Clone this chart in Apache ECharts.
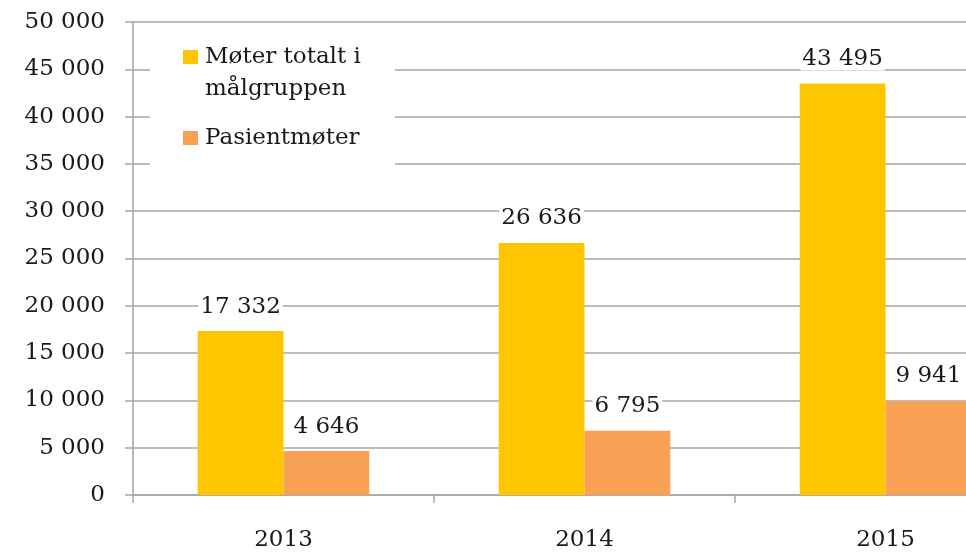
<!DOCTYPE html>
<html>
<head>
<meta charset="utf-8">
<script src="https://cdn.jsdelivr.net/npm/echarts@6/dist/echarts.min.js"></script>
<style>
  html, body { margin: 0; padding: 0; background: #fff; }
  #chart { width: 966px; height: 552px; }
</style>
</head>
<body>
<div id="chart"></div>
<script>
const years = ["2013", "2014", "2015"];
const moterTotalt = [17332, 26636, 43495];
const pasientmoter = [4646, 6795, 9941];
const seriesNames = ["Møter totalt i\nmålgruppen", "Pasientmøter"];

const FONT = "DejaVu Serif";
// mellomrom som tusenskille, som i originalen
const fmt = v => String(v).replace(/\B(?=(\d{3})+(?!\d))/g, " ");

const myChart = echarts.init(document.getElementById("chart"));

const labelStyle = {
  show: true,
  position: "top",
  distance: 13,
  fontFamily: FONT,
  fontSize: 23,
  color: "#1a1a1a",
  backgroundColor: "#fff",
  padding: [2, 2, 0, 2],
  formatter: p => fmt(p.value)
};

const option = {
  animation: false,
  backgroundColor: "#fff",
  grid: {
    left: 133,
    top: 22,
    width: 903,
    bottom: 57,
    outerBoundsMode: "none"
  },
  // hvit boks bak forklaringen
  graphic: [
    {
      type: "rect",
      z: 3,
      shape: { x: 150, y: 30, width: 245, height: 152 },
      style: { fill: "#fff" }
    }
  ],
  legend: {
    orient: "vertical",
    left: 183,
    top: 9,
    padding: 0,
    z: 4,
    itemWidth: 15,
    itemHeight: 14,
    itemGap: 17,
    icon: "rect",
    data: seriesNames,
    // tom første linje så ikonet havner på første tekstlinje
    formatter: name => (name.indexOf("\n") > 0 ? "\n" + name : name),
    textStyle: {
      fontFamily: FONT,
      fontSize: 23,
      lineHeight: 32,
      color: "#1a1a1a",
      padding: [0, 0, 0, 2]
    }
  },
  xAxis: {
    type: "category",
    data: years,
    axisLine: { lineStyle: { color: "#a6a6a6", width: 1.5 } },
    axisTick: { show: true, length: 8, lineStyle: { color: "#a6a6a6", width: 1.5 } },
    axisLabel: {
      fontFamily: FONT,
      fontSize: 23,
      color: "#1a1a1a",
      margin: 34
    }
  },
  yAxis: {
    type: "value",
    min: 0,
    max: 50000,
    interval: 5000,
    axisLine: { show: true, lineStyle: { color: "#a6a6a6", width: 1.5 } },
    axisTick: { show: true, length: 8, lineStyle: { color: "#a6a6a6", width: 1.5 } },
    splitLine: { lineStyle: { color: "#a6a6a6", width: 1.5 } },
    axisLabel: {
      fontFamily: FONT,
      fontSize: 23,
      color: "#1a1a1a",
      margin: 28,
      formatter: v => fmt(v)
    }
  },
  series: [
    {
      name: seriesNames[0],
      type: "bar",
      data: moterTotalt,
      barGap: "0%",
      barCategoryGap: "43%",
      itemStyle: { color: "#FFC600" },
      label: labelStyle
    },
    {
      name: seriesNames[1],
      type: "bar",
      data: pasientmoter,
      itemStyle: { color: "#F8A155" },
      label: labelStyle
    }
  ]
};
myChart.setOption(option);
</script>
</body>
</html>
